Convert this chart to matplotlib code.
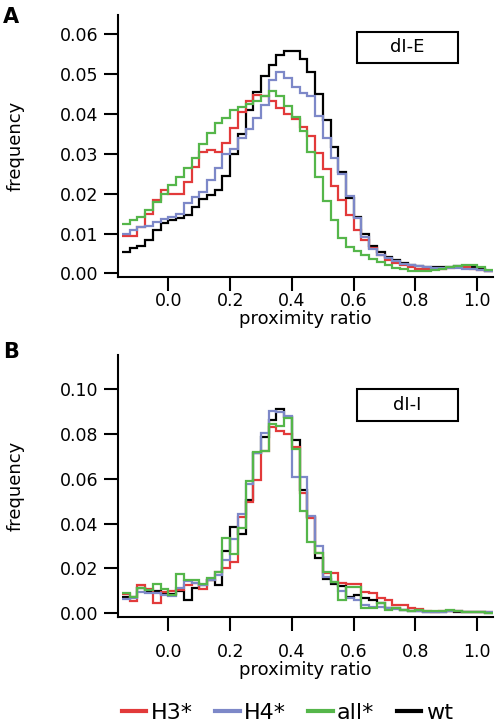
import numpy as np
import matplotlib.pyplot as plt
from matplotlib.lines import Line2D
from matplotlib.patches import Rectangle

# histogram bins (proximity ratio), 0.025 wide from -0.15 to 1.05
bin_start = -0.15
bin_width = 0.025
n_bins = 48
bin_edges = bin_start + bin_width * np.arange(n_bins + 1)

series_names = ['H3*', 'H4*', 'all*', 'wt']
series_colors = ['#e23a3a', '#7d88c8', '#55b64a', '#000000']

# panel A: dI-E
dIE_H3 = [0.0093, 0.0095, 0.0117, 0.0150, 0.0185, 0.0210, 0.0200, 0.0200, 0.0230, 0.0268,
          0.0305, 0.0310, 0.0305, 0.0326, 0.0364, 0.0406, 0.0432, 0.0448, 0.0446, 0.0432,
          0.0416, 0.0400, 0.0386, 0.0368, 0.0344, 0.0303, 0.0262, 0.0219, 0.0184, 0.0146,
          0.0109, 0.0084, 0.0063, 0.0045, 0.0033, 0.0026, 0.0020, 0.0016, 0.0012, 0.0010,
          0.0010, 0.0012, 0.0014, 0.0016, 0.0015, 0.0012, 0.0009, 0.0006]
dIE_H4 = [0.0098, 0.0110, 0.0117, 0.0120, 0.0128, 0.0136, 0.0142, 0.0150, 0.0176, 0.0192,
          0.0205, 0.0234, 0.0264, 0.0300, 0.0312, 0.0340, 0.0362, 0.0390, 0.0422, 0.0484,
          0.0504, 0.0489, 0.0468, 0.0453, 0.0446, 0.0395, 0.0340, 0.0290, 0.0250, 0.0195,
          0.0140, 0.0092, 0.0060, 0.0047, 0.0038, 0.0030, 0.0024, 0.0020, 0.0018, 0.0016,
          0.0014, 0.0013, 0.0014, 0.0014, 0.0012, 0.0010, 0.0008, 0.0005]
dIE_all = [0.0125, 0.0134, 0.0142, 0.0159, 0.0180, 0.0200, 0.0222, 0.0243, 0.0264, 0.0290,
           0.0325, 0.0351, 0.0377, 0.0390, 0.0410, 0.0418, 0.0425, 0.0432, 0.0446, 0.0458,
           0.0446, 0.0420, 0.0393, 0.0356, 0.0305, 0.0243, 0.0182, 0.0134, 0.0090, 0.0067,
           0.0057, 0.0046, 0.0036, 0.0028, 0.0020, 0.0014, 0.0010, 0.0007, 0.0006, 0.0007,
           0.0009, 0.0012, 0.0015, 0.0019, 0.0021, 0.0021, 0.0015, 0.0008]
dIE_wt = [0.0054, 0.0063, 0.0069, 0.0085, 0.0109, 0.0127, 0.0134, 0.0138, 0.0146, 0.0167,
          0.0186, 0.0197, 0.0208, 0.0245, 0.0300, 0.0350, 0.0410, 0.0455, 0.0494, 0.0522,
          0.0548, 0.0557, 0.0557, 0.0538, 0.0505, 0.0450, 0.0385, 0.0318, 0.0255, 0.0190,
          0.0142, 0.0100, 0.0069, 0.0053, 0.0042, 0.0033, 0.0027, 0.0022, 0.0019, 0.0017,
          0.0016, 0.0016, 0.0017, 0.0018, 0.0018, 0.0015, 0.0011, 0.0006]

# panel B: dI-I
dII_H3 = [0.0085, 0.0055, 0.0125, 0.0108, 0.0048, 0.0095, 0.0100, 0.0105, 0.0125, 0.0134,
          0.0110, 0.0148, 0.0185, 0.0200, 0.0230, 0.0430, 0.0495, 0.0595, 0.0725, 0.0832,
          0.0815, 0.0799, 0.0743, 0.0535, 0.0425, 0.0270, 0.0180, 0.0178, 0.0135, 0.0133,
          0.0133, 0.0097, 0.0089, 0.0067, 0.0060, 0.0037, 0.0037, 0.0022, 0.0018, 0.0010,
          0.0008, 0.0010, 0.0012, 0.0010, 0.0008, 0.0006, 0.0006, 0.0004]
dII_H4 = [0.0065, 0.0068, 0.0096, 0.0090, 0.0092, 0.0082, 0.0078, 0.0115, 0.0145, 0.0134,
          0.0126, 0.0150, 0.0170, 0.0240, 0.0330, 0.0445, 0.0575, 0.0715, 0.0804, 0.0904,
          0.0900, 0.0878, 0.0609, 0.0610, 0.0433, 0.0300, 0.0160, 0.0140, 0.0100, 0.0067,
          0.0060, 0.0037, 0.0030, 0.0030, 0.0022, 0.0018, 0.0016, 0.0012, 0.0012, 0.0008,
          0.0006, 0.0008, 0.0010, 0.0012, 0.0008, 0.0006, 0.0005, 0.0004]
dII_all = [0.0090, 0.0075, 0.0111, 0.0105, 0.0132, 0.0108, 0.0080, 0.0175, 0.0150, 0.0148,
           0.0130, 0.0156, 0.0185, 0.0335, 0.0265, 0.0380, 0.0590, 0.0720, 0.0725, 0.0844,
           0.0835, 0.0873, 0.0735, 0.0455, 0.0320, 0.0268, 0.0185, 0.0140, 0.0060, 0.0119,
           0.0119, 0.0022, 0.0022, 0.0044, 0.0015, 0.0022, 0.0015, 0.0012, 0.0014, 0.0010,
           0.0012, 0.0010, 0.0015, 0.0012, 0.0008, 0.0006, 0.0004, 0.0003]
dII_wt = [0.0075, 0.0072, 0.0111, 0.0096, 0.0100, 0.0088, 0.0085, 0.0100, 0.0060, 0.0111,
          0.0126, 0.0150, 0.0126, 0.0280, 0.0385, 0.0355, 0.0505, 0.0715, 0.0787, 0.0862,
          0.0910, 0.0877, 0.0773, 0.0550, 0.0430, 0.0245, 0.0152, 0.0133, 0.0120, 0.0074,
          0.0082, 0.0067, 0.0060, 0.0044, 0.0022, 0.0022, 0.0015, 0.0012, 0.0012, 0.0006,
          0.0005, 0.0008, 0.0010, 0.0008, 0.0006, 0.0005, 0.0004, 0.0003]

xticks = [0.0, 0.2, 0.4, 0.6, 0.8, 1.0]
yticks_A = [0.00, 0.01, 0.02, 0.03, 0.04, 0.05, 0.06]
yticks_B = [0.00, 0.02, 0.04, 0.06, 0.08, 0.10]

plt.rcParams['font.family'] = ['DejaVu Sans']

fig = plt.figure(figsize=(4.97, 7.27), dpi=100)
W, H = 497.0, 727.0
axA = fig.add_axes([118 / W, 1 - 277 / H, 375.3 / W, 262 / H])
axB = fig.add_axes([118 / W, 1 - 616.7 / H, 375.3 / W, 261.7 / H])

panels = [
    (axA, [dIE_wt, dIE_H3, dIE_H4, dIE_all], 'dI-E', yticks_A, (-0.0009, 0.0648), 0.8156, 1),
    (axB, [dII_wt, dII_H3, dII_H4, dII_all], 'dI-I', yticks_B, (-0.0015, 0.1152), 0.7478, 9),
]
draw_order = [3, 0, 1, 2]  # wt first, then H3*, H4*, all*

for ax, data, name, yt, ylim, box_y, xpad in panels:
    for vals, ci in zip(data, draw_order):
        ax.stairs(vals, bin_edges, color=series_colors[ci], lw=1.6, baseline=None)
    ax.set_xlim(-0.163, 1.052)
    ax.set_ylim(*ylim)
    ax.set_xticks(xticks)
    ax.set_xticklabels(['%.1f' % t for t in xticks])
    ax.set_yticks(yt)
    ax.set_yticklabels(['%.2f' % t for t in yt])
    for s in ['top', 'right']:
        ax.spines[s].set_visible(False)
    for s in ['left', 'bottom']:
        ax.spines[s].set_linewidth(1.5)
    ax.tick_params(axis='both', direction='out', length=10, width=1.5, labelsize=12.5)
    ax.tick_params(axis='x', pad=xpad)
    ax.tick_params(axis='y', pad=4)
    ax.set_ylabel('frequency', fontsize=13)
    ax.yaxis.set_label_coords(-0.25, 0.5)
    ax.set_xlabel('proximity ratio', fontsize=13)
    ax.add_patch(Rectangle((0.636, box_y), 0.2707, 0.121, transform=ax.transAxes,
                           fill=False, edgecolor='black', lw=1.5, clip_on=False))
    ax.text(0.771, box_y + 0.0605, name, transform=ax.transAxes, ha='center', va='center',
            fontsize=13)

axA.xaxis.set_label_coords(0.5, -0.125)
axB.xaxis.set_label_coords(0.5, -0.17)

fig.text(0.006, 0.990, 'A', fontsize=15, fontweight='bold', va='top', ha='left')
fig.text(0.006, 0.530, 'B', fontsize=15, fontweight='bold', va='top', ha='left')

handles = [Line2D([], [], color=c, lw=3) for c in series_colors]
fig.legend(handles, series_names, loc='center', bbox_to_anchor=(0.578, 0.019), ncol=4,
           frameon=False, fontsize=16, handlelength=1.1, handletextpad=0.2,
           columnspacing=1.0, borderaxespad=0)

fig.savefig('out.png', dpi=100)
